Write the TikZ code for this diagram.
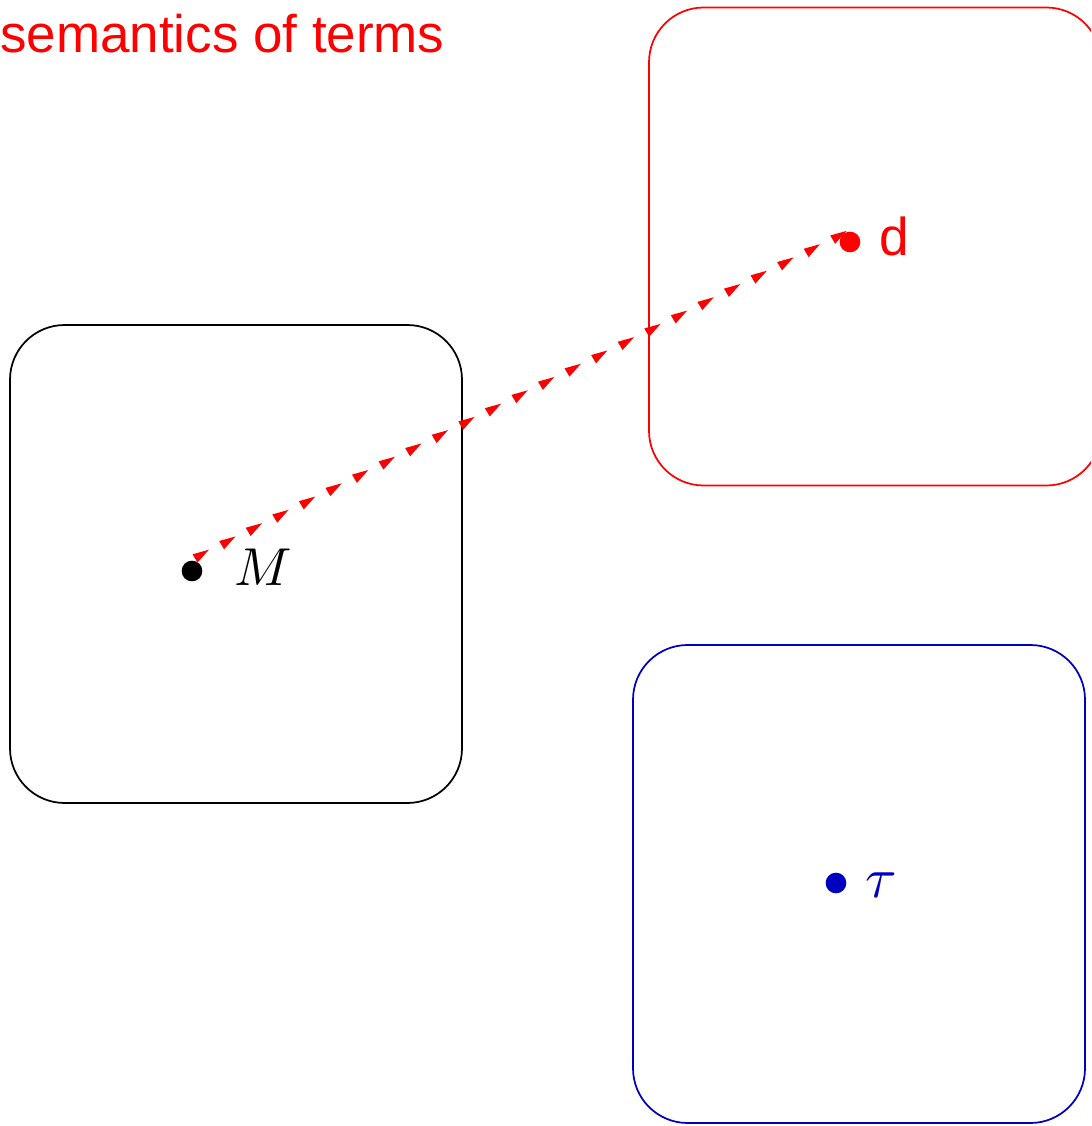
\documentclass[tikz,border=0pt]{standalone}
\usepackage{graphicx}
\usepackage{fontspec}
\newfontfamily\labelsans{Liberation Sans}
\usetikzlibrary{decorations.markings}
\definecolor{dblue}{RGB}{0,0,190}
\tikzset{
  px/.style={x=0.75pt,y=-0.75pt},
  setbox/.style={draw,rounded corners=41pt,line width=1.3pt,minimum width=339pt,minimum height=358.5pt,inner sep=0pt},
  spot/.style={circle,fill,inner sep=0pt,minimum size=15.5pt},
  lab/.style={anchor=base west,inner sep=0pt,font=\fontsize{40}{48}\selectfont},
  mlab/.style={anchor=base west,inner sep=0pt,font=\fontsize{10}{12}\selectfont},
  semarrow/.style={decorate,decoration={markings,
     mark=between positions 6pt and 542pt step 22.28pt with {
       \fill[red] (0pt,11pt) -- (12.5pt,8.6pt) -- (0.5pt,3.8pt) -- cycle;}}}
}
\begin{document}
\begin{tikzpicture}[px]
\useasboundingbox (0,0) rectangle (1091,1126);
\clip (0,0) rectangle (1091,1126);
\node[lab,red,font=\fontsize{39.7}{48}\selectfont] (title) at (0,53) {\labelsans semantics of terms};
\node[setbox,black] (boxM) at (236,564) {};
\node[setbox,red] (boxd) at (875,246.5) {};
\node[setbox,dblue] (boxt) at (859,884) {};
\node[spot,black] (Mdot) at (192,571) {};
\node[spot,red] (ddot) at (850,242) {};
\node[spot,dblue] (tdot) at (836,883) {};
\node[mlab] (Mlab) at (234,585) {\scalebox{4}{$M$}};
\node[lab,red] (dlab) at (879,256) {\labelsans d};
\node[mlab,dblue] (tlab) at (865,897) {\scalebox{4.3}{$\tau$}};
\path[semarrow] (Mdot.center) -- (ddot.center);
\end{tikzpicture}
\end{document}
